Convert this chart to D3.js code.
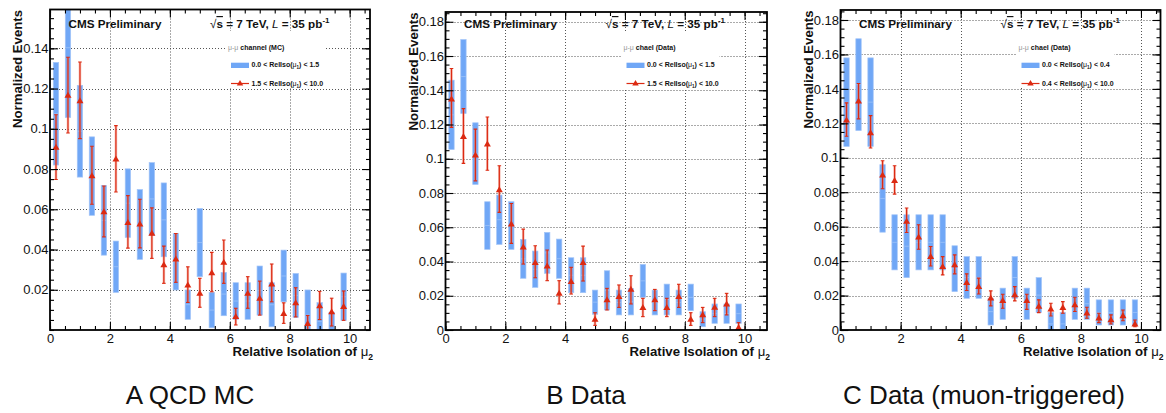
<!DOCTYPE html>
<html><head><meta charset="utf-8">
<script src="https://cdn.jsdelivr.net/npm/d3@7"></script>
<style>
body{margin:0;background:#fff;}
svg{display:block;font-family:"Liberation Sans",Arial,Helvetica,sans-serif;}
</style>
</head><body>
<svg id="c" width="1166" height="413"></svg>
<script>
// ---------- data ----------
const binCenters = [0.2,0.6,1.0,1.4,1.8,2.2,2.6,3.0,3.4,3.8,4.2,4.6,5.0,5.4,5.8,6.2,6.6,7.0,7.4,7.8,8.2,8.6,9.0,9.4,9.8];
const xTicks = [0,2,4,6,8,10];
const yTicksA = [0.02,0.04,0.06,0.08,0.1,0.12,0.14];
const yTicksBC = [0,0.02,0.04,0.06,0.08,0.1,0.12,0.14,0.16,0.18];
const captions = ["A  QCD MC","B  Data","C  Data (muon-triggered)"];

// Panel A : QCD MC
const blueLoA = [0.082,0.1056,0.076,0.057,0.0372,0.0187,0.046,0.0351,0.0471,0.0364,0.0199,0.0053,0.0265,0.0011,0.0071,0.0053,0.0053,0.0074,0.0016,0.014,0.0063,-0.005,-0.005,-0.008,0.0048];
const blueHiA = [0.133,0.175,0.1216,0.096,0.0718,0.0442,0.0801,0.0698,0.0832,0.0731,0.048,0.0199,0.0604,0.0187,0.0286,0.0235,0.0235,0.0318,0.0235,0.0397,0.0281,0.0199,0.0136,0.0088,0.0283];
const redA   = [0.0907,0.1166,0.1138,0.0766,0.0587,0.0849,0.0533,0.0526,0.048,0.0323,0.0352,0.0223,0.0182,0.0284,0.0336,0.0066,0.0182,0.0157,0.0228,0.0081,0.0134,0.0031,0.012,0.009,0.0116];
const redLoA = [0.0748,0.0979,0.0951,0.0625,0.0463,0.0686,0.0407,0.0408,0.0356,0.0232,0.0237,0.0137,0.0113,0.019,0.0232,0.0025,0.0108,0.0074,0.014,0.0033,0.0065,-0.001,0.0052,0.002,0.0048];
const redHiA = [0.107,0.1356,0.1332,0.0913,0.0716,0.1016,0.0668,0.065,0.0607,0.0417,0.048,0.0314,0.0257,0.0386,0.0447,0.0108,0.0265,0.0243,0.0328,0.0135,0.021,0.0072,0.0192,0.0158,0.0194];

// Panel B : Data
const blueLoB = [0.1054,0.1264,0.085,0.0471,0.05,0.0471,0.0302,0.0249,0.0331,0.0302,0.0218,0.0218,0.0092,0.0117,0.0088,0.0088,0.0191,0.0088,0.0088,0.0088,0.0113,0.0019,0.0039,0.0039,0.0039];
const blueHiB = [0.1459,0.1696,0.121,0.0749,0.0788,0.0749,0.0529,0.0461,0.057,0.0531,0.0422,0.0422,0.0233,0.0346,0.0233,0.0243,0.0383,0.0233,0.0268,0.0233,0.0268,0.0107,0.0152,0.0152,0.0152];
const redB   = [0.1348,0.1128,0.1021,0.1085,0.0817,0.0617,0.0483,0.0393,0.0373,0.0214,0.0282,0.0393,0.0062,0.0175,0.0194,0.0237,0.013,0.0175,0.013,0.0194,0.0062,0.0088,0.0132,0.015,0.0013];
const redLoB = [0.1183,0.0973,0.0871,0.0933,0.0687,0.0506,0.0385,0.0305,0.0288,0.0152,0.021,0.0286,0.0027,0.0117,0.0132,0.0152,0.0078,0.0113,0.0078,0.0132,0.0027,0.0043,0.0078,0.0088,0.0];
const redHiB = [0.1527,0.1293,0.1173,0.1244,0.0959,0.0739,0.0589,0.0492,0.0467,0.0288,0.0366,0.049,0.0101,0.0243,0.0263,0.0317,0.0185,0.0237,0.0185,0.0267,0.0101,0.0132,0.0185,0.0214,0.0043];

// Panel C : Data (muon-triggered)
const blueLoC = [0.1066,0.1158,0.1066,0.0568,0.0349,0.0304,0.0349,0.0349,0.0349,0.0223,0.0184,0.0184,0.0029,0.0062,0.0184,0.0062,0.0101,-0.003,-0.003,0.0062,0.0062,0.0029,0.0029,0.0029,0.0029];
const blueHiC = [0.158,0.1691,0.158,0.096,0.0669,0.0669,0.0669,0.0669,0.0669,0.0489,0.0426,0.0426,0.0184,0.0243,0.0426,0.0243,0.0304,0.0101,0.0101,0.0243,0.0243,0.0175,0.0175,0.0175,0.0175];
const redC   = [0.1218,0.1328,0.1144,0.0898,0.0867,0.063,0.0539,0.0426,0.0368,0.0378,0.0275,0.0252,0.0184,0.017,0.0204,0.017,0.0136,0.012,0.013,0.0145,0.0097,0.0068,0.0058,0.0081,0.0033];
const redLoC = [0.1125,0.1226,0.1057,0.082,0.0789,0.0566,0.0469,0.0372,0.032,0.0326,0.0229,0.0209,0.014,0.0126,0.0169,0.012,0.0101,0.0081,0.0097,0.0107,0.0068,0.0043,0.0035,0.0054,0.0019];
const redHiC = [0.1319,0.1431,0.1245,0.0983,0.0954,0.0708,0.0611,0.0485,0.0426,0.0436,0.0326,0.0301,0.0227,0.0208,0.0252,0.0208,0.0175,0.0155,0.0165,0.019,0.0132,0.0097,0.0088,0.0116,0.0058];

const legendHeaders = ["channel (MC)","chael (Data)","chael (Data)"];
const legendCuts = ["1.5","1.5","0.4"];

// ---------- layout ----------
const BOTTOM = 330;
const BLUE = "#70a7f6", RED = "#dc2a12";
const panels = [
  {left:50,   right:370,   top:9.5, xMax:10.68, yMax:0.1593, yTicks:yTicksA,  bl:blueLoA, bh:blueHiA, r:redA, rl:redLoA, rh:redHiA, cap:190},
  {left:445.5,right:767,   top:12,  xMax:10.75, yMax:0.1857, yTicks:yTicksBC, bl:blueLoB, bh:blueHiB, r:redB, rl:redLoB, rh:redHiB, cap:586},
  {left:840.5,right:1160.5,top:10,  xMax:10.65, yMax:0.1858, yTicks:yTicksBC, bl:blueLoC, bh:blueHiC, r:redC, rl:redLoC, rh:redHiC, cap:984}
];

const svg = d3.select("#c");
svg.append("rect").attr("width",1166).attr("height",413).attr("fill","#fff");
const defs = svg.append("defs");

function tri(cx, cy, w, h){
  return `M${cx},${cy-h*0.62}L${cx-w/2},${cy+h*0.38}L${cx+w/2},${cy+h*0.38}Z`;
}

panels.forEach((p,i)=>{
  const x = d3.scaleLinear().domain([0,p.xMax]).range([p.left,p.right]);
  const y = d3.scaleLinear().domain([0,p.yMax]).range([BOTTOM,p.top]);
  const L = p.left;
  const g = svg.append("g");
  const cid = "clip"+i;
  defs.append("clipPath").attr("id",cid).append("rect")
    .attr("x",p.left).attr("y",p.top).attr("width",p.right-p.left).attr("height",BOTTOM-p.top);
  const plot = g.append("g").attr("clip-path",`url(#${cid})`);

  // grid
  const grid = plot.append("g").attr("stroke","#555").attr("stroke-width",1).attr("stroke-dasharray","1,2");
  grid.selectAll("line.v").data(xTicks.filter(t=>t>0)).join("line")
    .attr("x1",d=>Math.round(x(d))+0.5).attr("x2",d=>Math.round(x(d))+0.5).attr("y1",p.top).attr("y2",BOTTOM);
  grid.selectAll("line.h").data(p.yTicks.filter(t=>t>0)).join("line")
    .attr("y1",d=>Math.round(y(d))+0.5).attr("y2",d=>Math.round(y(d))+0.5).attr("x1",p.left).attr("x2",p.right);

  // legend box (white)
  plot.append("rect").attr("x",L+176).attr("y",31).attr("width",98).attr("height",57).attr("fill","#fff");

  // blue bands
  const hw = x(0.09)-x(0);
  plot.append("g").selectAll("rect").data(binCenters).join("rect")
    .attr("x",(d)=>x(d)-hw).attr("width",2*hw)
    .attr("y",(d,k)=>y(p.bh[k])).attr("height",(d,k)=>y(p.bl[k])-y(p.bh[k]))
    .attr("fill",BLUE).attr("stroke","#a3c5f8").attr("stroke-width",0.7);
  plot.append("g").selectAll("rect").data(binCenters).join("rect")
    .attr("x",(d)=>x(d)-hw+0.5).attr("width",2*hw-1)
    .attr("y",(d,k)=>y((p.bh[k]+p.bl[k])/2)-0.5).attr("height",1)
    .attr("fill","#fff").attr("opacity",0.25);

  // red points with error bars
  const rg = plot.append("g");
  const cw = 1.8;
  binCenters.forEach((c,k)=>{
    const cx = x(c);
    // halo
    rg.append("line").attr("x1",cx).attr("x2",cx).attr("y1",y(p.rl[k])).attr("y2",y(p.rh[k]))
      .attr("stroke","#ef8a7a").attr("stroke-width",2.6).attr("opacity",0.55);
    rg.append("line").attr("x1",cx).attr("x2",cx).attr("y1",y(p.rl[k])).attr("y2",y(p.rh[k]))
      .attr("stroke",RED).attr("stroke-width",1.2);
    [p.rl[k],p.rh[k]].forEach(v=>{
      rg.append("line").attr("x1",cx-cw).attr("x2",cx+cw).attr("y1",y(v)).attr("y2",y(v))
        .attr("stroke",RED).attr("stroke-width",1.1);
    });
    rg.append("path").attr("d",tri(cx,y(p.r[k]),7,6)).attr("fill",RED);
  });

  // axes (ticks inward on all four sides)
  const styleAxis = (sel)=>{ sel.select(".domain").remove(); sel.selectAll("line").attr("stroke","#000").attr("stroke-width",1.1); sel.attr("font-family",null).attr("font-size",13).selectAll("text").attr("fill","#111"); };
  const minorX = d3.range(0, p.xMax, 0.5);
  const minorY = d3.range(0, p.yMax, 0.005);
  g.append("g").attr("transform",`translate(0,${BOTTOM})`)
    .call(d3.axisBottom(x).tickValues(minorX).tickSizeInner(-4).tickSizeOuter(0).tickFormat("")).call(styleAxis);
  g.append("g").attr("transform",`translate(0,${BOTTOM})`)
    .call(d3.axisBottom(x).tickValues(xTicks).tickSizeInner(-8).tickSizeOuter(0).tickPadding(4).tickFormat(d3.format("d"))).call(styleAxis);
  g.append("g").attr("transform",`translate(0,${p.top})`)
    .call(d3.axisTop(x).tickValues(minorX).tickSizeInner(-4).tickSizeOuter(0).tickFormat("")).call(styleAxis);
  g.append("g").attr("transform",`translate(0,${p.top})`)
    .call(d3.axisTop(x).tickValues(xTicks).tickSizeInner(-8).tickSizeOuter(0).tickFormat("")).call(styleAxis);
  g.append("g").attr("transform",`translate(${p.left},0)`)
    .call(d3.axisLeft(y).tickValues(minorY).tickSizeInner(-4).tickSizeOuter(0).tickFormat("")).call(styleAxis);
  g.append("g").attr("transform",`translate(${p.left},0)`)
    .call(d3.axisLeft(y).tickValues(p.yTicks).tickSizeInner(-8).tickSizeOuter(0).tickPadding(1.5).tickFormat(d=>d===0?"0":String(+d.toFixed(2)))).call(styleAxis);
  g.append("g").attr("transform",`translate(${p.right},0)`)
    .call(d3.axisRight(y).tickValues(minorY).tickSizeInner(-4).tickSizeOuter(0).tickFormat("")).call(styleAxis);
  g.append("g").attr("transform",`translate(${p.right},0)`)
    .call(d3.axisRight(y).tickValues(p.yTicks).tickSizeInner(-8).tickSizeOuter(0).tickFormat("")).call(styleAxis);

  // frame
  g.append("rect").attr("x",p.left).attr("y",p.top).attr("width",p.right-p.left).attr("height",BOTTOM-p.top)
    .attr("fill","none").attr("stroke","#000").attr("stroke-width",1.8);

  // axis titles
  g.append("text").attr("transform",`translate(${L-28},${p.top+0.5}) rotate(-90)`)
    .attr("text-anchor","end").attr("font-weight","bold").attr("font-size",13.2).attr("fill","#111")
    .text("Normalized Events");
  const xt = g.append("text").attr("x",p.right+3).attr("y",356).attr("text-anchor","end")
    .attr("font-weight","bold").attr("font-size",13.2).attr("fill","#111");
  xt.append("tspan").text("Relative Isolation of ");
  xt.append("tspan").attr("font-weight","normal").text("μ");
  xt.append("tspan").attr("font-size",8.5).attr("dy",4).text("2");

  // header texts
  g.append("text").attr("x",L+18.5).attr("y",28).attr("font-weight","bold").attr("font-size",11.7).attr("fill","#111")
    .text("CMS Preliminary");
  const hs = g.append("text").attr("x",L+160).attr("y",28).attr("font-weight","bold").attr("font-size",11.7).attr("fill","#111");
  hs.append("tspan").attr("font-weight","normal").text("√");
  hs.append("tspan").attr("text-decoration","overline").text("s");
  hs.append("tspan").text(" = 7 TeV, ");
  hs.append("tspan").attr("font-style","italic").attr("font-weight","normal").text("L");
  hs.append("tspan").text(" = 35 pb");
  hs.append("tspan").attr("font-size",8).attr("dy",-5).text("-1");

  // legend
  const lg = g.append("g").attr("font-size",7).attr("font-weight","bold").attr("fill","#111");
  const h = lg.append("text").attr("x",L+178).attr("y",49.5);
  h.append("tspan").attr("font-weight","normal").attr("fill","#999").text("μ-μ");
  h.append("tspan").text(" "+legendHeaders[i]);
  lg.append("rect").attr("x",L+181).attr("y",62.7).attr("width",18).attr("height",5.3).attr("fill",BLUE);
  const t1 = lg.append("text").attr("x",L+201.5).attr("y",66.5);
  t1.append("tspan").text("0.0 < RelIso(");
  t1.append("tspan").attr("font-weight","normal").text("μ");
  t1.append("tspan").attr("font-size",4.5).attr("dy",2).text("1");
  t1.append("tspan").attr("dy",-2).text(") < "+legendCuts[i]);
  lg.append("line").attr("x1",L+181).attr("x2",L+199).attr("y1",83.5).attr("y2",83.5).attr("stroke",RED).attr("stroke-width",1.2);
  lg.append("path").attr("d",tri(L+190,83.5,6.5,5.5)).attr("fill",RED);
  const t2 = lg.append("text").attr("x",L+201.5).attr("y",85.5);
  t2.append("tspan").text(legendCuts[i]+" < RelIso(");
  t2.append("tspan").attr("font-weight","normal").text("μ");
  t2.append("tspan").attr("font-size",4.5).attr("dy",2).text("1");
  t2.append("tspan").attr("dy",-2).text(") < 10.0");

  // caption
  svg.append("text").attr("x",p.cap).attr("y",404).attr("text-anchor","middle")
    .attr("font-size",26).attr("fill","#111").text(captions[i]);
});
</script>
</body></html>
